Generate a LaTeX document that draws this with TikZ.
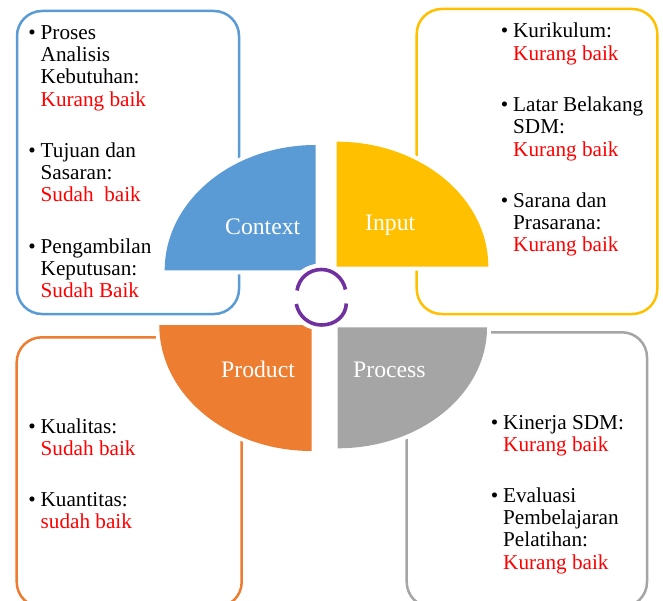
\documentclass[tikz,border=0pt]{standalone}
\usepackage{fontspec}
\setmainfont{Liberation Serif}
\definecolor{cblue}{HTML}{5B9BD5}
\definecolor{cyellow}{HTML}{FFC000}
\definecolor{corange}{HTML}{ED7D31}
\definecolor{cgray}{HTML}{A5A5A5}
\definecolor{cpurple}{HTML}{7030A0}
\definecolor{cred}{HTML}{FF0000}
\newcommand{\bul}{\leavevmode\rule{0pt}{20pt}\llap{•\hspace{5pt}}}
\newcommand{\red}[1]{\textcolor{cred}{#1}}
\tikzset{
  panel/.style={rounded corners=25pt,line width=2.5pt},
  petal/.style={preaction={draw=white,line width=8pt}},
  entry/.style={anchor=north west,inner sep=0pt,align=left,font=\fontsize{21.2}{22.3}\selectfont,text=black},
  petallabel/.style={anchor=base west,inner sep=0pt,text=white,font=\fontsize{23.7}{26}\selectfont},
  cyclearc/.style={draw=cpurple,line width=3.6pt}
}
\begin{document}
\begin{tikzpicture}[x=1pt,y=-1pt]
\clip (0,0) rectangle (663,601);
\fill[white] (0,0) rectangle (663,601);
% panels
\draw[panel,draw=cblue] (17,11) rectangle (239,314);
\draw[panel,draw=cyellow] (416.7,9) rectangle (657.3,314);
\draw[panel,draw=corange] (16.7,337.3) rectangle (241.7,607);
\draw[panel,draw=cgray] (406.7,332.3) rectangle (647,607);
% petals
\fill[petal,cblue] (315.7,270.3) -- (315.7,145) .. controls (232.3,145) and (164.7,201.1) .. (164.7,270.3) -- cycle;
\fill[petal,cyellow] (336.7,266.7) -- (336.7,141.7) .. controls (420.4,141.7) and (488.3,197.7) .. (488.3,266.7) -- cycle;
\fill[petal,corange] (311.7,325) -- (159.3,325) .. controls (159.3,394.6) and (227.5,451) .. (311.7,451) -- cycle;
\fill[petal,cgray] (337.7,327.3) -- (487,327.3) .. controls (487,394.1) and (420.2,448.3) .. (337.7,448.3) -- cycle;
% centre notch and cycle arcs
\fill[white] (321,297) circle[radius=33.5];
\draw[cyclearc] (297,290.5) .. controls (299,278) and (309,269.5) .. (321.5,269.5) .. controls (333,269.5) and (343,278) .. (345.5,289.5);
\draw[cyclearc] (346.3,303.5) .. controls (346,316) and (335,325) .. (321.5,325) .. controls (309,325) and (298.5,316) .. (296.3,304);
% petal labels
\node[petallabel] (context) at (225,235) {Context};
\node[petallabel] (input) at (365,231) {Input};
\node[petallabel] (product) at (221,377.5) {Product};
\node[petallabel] (process) at (353,377.5) {Process};
% Context list
\node[entry] (c1) at (40.5,19) {\bul Proses\\Analisis\\Kebutuhan:\\\red{Kurang baik}};
\node[entry] (c2) at (40.5,137) {\bul Tujuan dan\\Sasaran:\\\red{Sudah\ \ baik}};
\node[entry] (c3) at (40.5,233) {\bul Pengambilan\\Keputusan:\\\red{Sudah Baik}};
% Input list
\node[entry] (i1) at (513,17.8) {\bul Kurikulum:\\\red{Kurang baik}};
\node[entry] (i2) at (513,91.3) {\bul Latar Belakang\\SDM:\\\red{Kurang baik}};
\node[entry] (i3) at (513,187.2) {\bul Sarana dan\\Prasarana:\\\red{Kurang baik}};
% Product list
\node[entry] (p1) at (40.5,413) {\bul Kualitas:\\\red{Sudah baik}};
\node[entry] (p2) at (40.5,486) {\bul Kuantitas:\\\red{sudah baik}};
% Process list
\node[entry] (r1) at (503,409) {\bul Kinerja SDM:\\\red{Kurang baik}};
\node[entry] (r2) at (503,482) {\bul Evaluasi\\Pembelajaran\\Pelatihan:\\\red{Kurang baik}};
\end{tikzpicture}
\end{document}
